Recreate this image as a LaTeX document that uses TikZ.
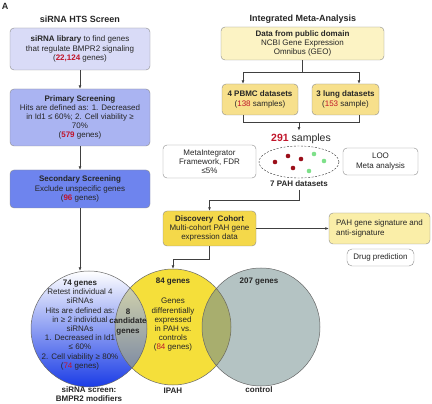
\documentclass[tikz,border=0pt]{standalone}
\usepackage{fontspec}
\setmainfont{Liberation Sans}
\usetikzlibrary{arrows.meta}
\usetikzlibrary{positioning}
\usetikzlibrary{shapes.geometric}

\definecolor{numred}{HTML}{C0152A}
\definecolor{lavlight}{HTML}{D9DBF7}
\definecolor{lavmid}{HTML}{AAB4F2}
\definecolor{lavdark}{HTML}{6E84EE}
\definecolor{creamy}{HTML}{FCF3C4}
\definecolor{sandy}{HTML}{F7E08C}
\definecolor{goldy}{HTML}{F4D84A}
\definecolor{paley}{HTML}{FAEEA8}
\definecolor{vennyellow}{HTML}{F5DF3A}
\definecolor{venngrey}{HTML}{B4C3C3}
\definecolor{vennolive}{HTML}{A8AE6E}
\definecolor{vennblue}{HTML}{1A3CE6}
\definecolor{dotred}{HTML}{9B0F1A}
\definecolor{dotgreen}{HTML}{7EE08A}

\newcommand{\hitnum}[1]{\textcolor{numred}{\textbf{#1}}}
\newcommand{\rednum}[1]{\textcolor{numred}{#1}}
\newcommand{\Library}{%
    \textbf{siRNA library} to find genes\\
    that regulate BMPR2 signaling\\
    (\hitnum{22,124} genes)%
}
\newcommand{\Primary}{%
    \textbf{Primary Screening}\\
    Hits are defined as: 1. Decreased\\
    in Id1 ≤ 60\%; 2. Cell viability ≥\\
    70\%\\
    (\hitnum{579} genes)%
}
\newcommand{\Secondary}{%
    \textbf{Secondary Screening}\\
    Exclude unspecific genes\\
    (\hitnum{96} genes)%
}
\newcommand{\Geo}{%
    \textbf{Data from public domain}\\
    NCBI Gene Expression\\
    Omnibus (GEO)%
}
\newcommand{\Pbmc}{\textbf{4 PBMC datasets}\\(\rednum{138} samples)}
\newcommand{\Lung}{\textbf{3 lung datasets}\\(\rednum{153} sample)}
\newcommand{\Discovery}{%
    \textbf{Discovery\ \ Cohort}\\
    Multi-cohort PAH gene\\
    expression data%
}
\newcommand{\Retest}{%
    \textbf{74 genes}\\
    Retest individual 4\\
    siRNAs\\
    Hits are defined as:\\
    in ≥ 2 individual\\
    siRNAs\\
    1. Decreased in Id1\\
    ≤ 60\%\\
    2. Cell viability ≥ 80\%\\
    (\rednum{74} genes)%
}
\newcommand{\Differential}{%
    Genes\\
    differentially\\
    expressed\\
    in PAH vs.\\
    controls\\
    (\rednum{84} genes)%
}

\begin{document}
\begin{tikzpicture}[x=1pt, y=-1pt,
                    font=\fontsize{8}{9.2}\selectfont,
                    text=black!85,
                    box/.style={
                        draw=black!45,
                        rounded corners=4pt,
                        align=center,
                        inner sep=1pt
                    },
                    bold/.style={font=\fontsize{8}{9.2}\selectfont\bfseries},
                    title/.style={font=\fontsize{9}{11}\selectfont\bfseries},
                    arr/.style={draw=black!75, line width=0.7pt,
                        -{Latex[length=3.5pt,width=3pt]}},
                    link/.style={draw=black!75, line width=0.7pt},
                    rim/.style={draw=black!60, line width=0.5pt}]

    \useasboundingbox (0,0) rectangle (432,404);

    \node[title] (panel) at (5,6) {A};

    % siRNA screen
    \node[title] (ltitle) at (80,19) {siRNA HTS Screen};
    \node[box, fill=lavlight, minimum width=140pt, minimum height=42pt] (lib) at (80,49) {\Library};
    \node[box, fill=lavmid, minimum width=140pt, minimum height=57pt] (prim) at (80,117.5) {\Primary};
    \node[box, fill=lavdark, minimum width=140pt, minimum height=38pt] (sec) at (80,189) {\Secondary};

    % meta-analysis
    \node[title] (rtitle) at (303,19) {Integrated Meta-Analysis};
    \node[box, fill=creamy, minimum width=163pt, minimum height=33pt] (geo) at (302.5,43.5) {\Geo};
    \node[box, fill=sandy, minimum width=76pt, minimum height=31pt] (pbmc) at (260,99.5) {\Pbmc};
    \node[box, fill=sandy, minimum width=67pt, minimum height=31pt] (lung) at (345.5,99.5) {\Lung};
    \node[font=\fontsize{10.5}{12}\selectfont] (samples) at (301,139) {\textcolor{numred}{\textbf{291}} samples};
    \node[ellipse, draw=black!80, dash pattern=on 2pt off 1.5pt, minimum width=80pt, minimum height=32pt] (pool) at (299,162) {};
    \foreach \x/\y in {275/162, 288/156, 301/159, 293/168}
        \fill[dotred] (\x,\y) circle[radius=2.3pt];
    \foreach \x/\y in {314/154, 324/161, 309/171}
        \fill[dotgreen] (\x,\y) circle[radius=2.3pt];
    \node[bold] (pah7) at (299,184) {7 PAH datasets};
    \node[box, fill=white, minimum width=93pt, minimum height=33pt] (meta) at (209.5,161.5) {MetaIntegrator\\Framework, FDR\\≤5\%};
    \node[box, fill=white, minimum width=75pt, minimum height=27pt] (loo) at (380.5,161.5) {LOO\\Meta analysis};
    \node[box, fill=goldy, minimum width=93pt, minimum height=35pt] (disc) at (209.5,228.5) {\Discovery};
    \node[box, fill=paley, align=left, minimum width=101pt, minimum height=31pt] (sig) at (379.5,228.5) {PAH gene signature and\\anti-signature};
    \node[box, fill=white, rounded corners=5pt, minimum width=67pt, minimum height=17pt] (drug) at (380.5,257.5) {Drug prediction};

    % venn
    \node[circle, minimum size=116pt] (sirna) at (89,329) {};
    \node[circle, minimum size=116pt] (ipah) at (173,327) {};
    \node[circle, minimum size=118pt] (ctrl) at (261,327) {};
    \fill[venngrey] (ctrl.center) circle[radius=59pt];
    \fill[vennyellow] (ipah.center) circle[radius=58pt];
    \begin{scope}
        \clip (ipah.center) circle[radius=58pt];
        \fill[vennolive] (ctrl.center) circle[radius=59pt];
    \end{scope}
    \shade[top color=white, middle color=vennblue!35!white, bottom color=vennblue] (sirna.center) circle[radius=58pt];
    \begin{scope}
        \clip (sirna.center) circle[radius=58pt];
        \fill[vennolive!70!vennyellow, opacity=.5] (ipah.center) circle[radius=58pt];
    \end{scope}
    \draw[rim] (sirna.center) circle[radius=58pt]
               (ipah.center) circle[radius=58pt]
               (ctrl.center) circle[radius=59pt];

    \node[align=center] (retest) at (80,325) {\Retest};
    \node[bold, align=center] (both) at (128,322) {8\\candidate\\genes};
    \node[bold] (ipahn) at (173,282) {84 genes};
    \node[align=center] (diff) at (173,325) {\Differential};
    \node[bold] (ctrln) at (259,282) {207 genes};
    \node[bold, align=center] (sirnalab) at (89,394.5) {siRNA screen:\\BMPR2 modifiers};
    \node[bold] (ipahlab) at (173,391) {IPAH};
    \node[bold] (ctrllab) at (259,390) {control};

    % connectors
    \draw[arr] (lib) -- (prim);
    \draw[arr] (prim) -- (sec);
    \draw[arr] (sec.south) -- (sec.south |- sirna.north);
    \draw[arr] (geo.south) -- ++(0,12) coordinate (fork) -| ([xshift=-17pt]pbmc.north);
    \draw[arr] (fork) -| ([xshift=13.5pt]lung.north);
    \draw[link] ([xshift=-17pt]pbmc.south) -- ++(0,7) coordinate (merge) -| ([xshift=13.5pt]lung.south);
    \draw[arr] (merge -| pool) -- (samples.north -| pool);
    \draw[arr] (pah7.south) -- ++(0,10) -| (disc.north);
    \draw[arr] (disc.east) -- (disc.east -| sig.west);
    \draw[arr] (disc.south) -- ++(0,13) -| (ipah.north);

\end{tikzpicture}
\end{document}
